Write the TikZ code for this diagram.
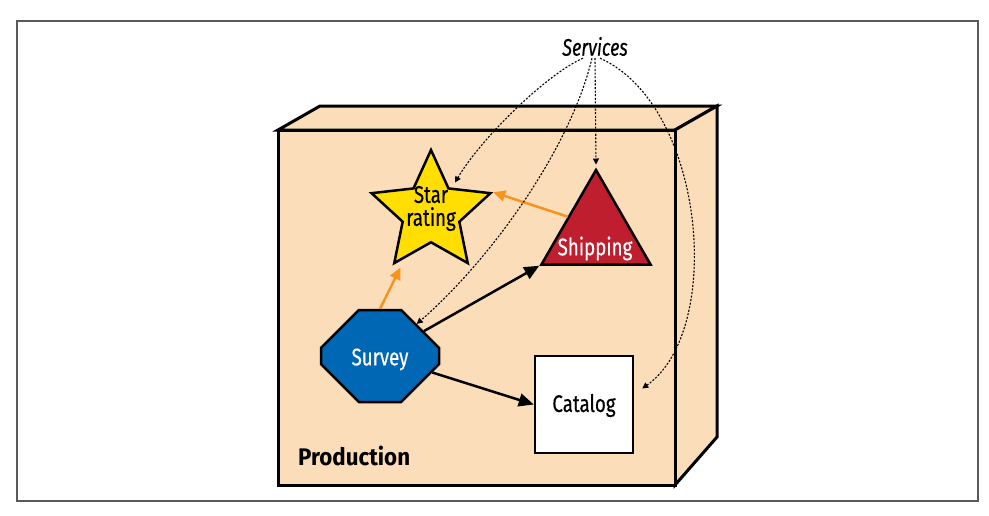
\documentclass[tikz,border=0pt]{standalone}
\usepackage{fontspec}
\setmainfont{Fira Sans}[FakeStretch=0.78, FakeBold=0.4]
\newfontfamily\italfam{Fira Sans Italic}[FakeStretch=0.75, FakeBold=0.3]
\newfontfamily\boldfam{Fira Sans Bold}[FakeStretch=0.93]
\usetikzlibrary{arrows.meta,shapes.geometric,shapes.misc,calc}
\definecolor{peach}{RGB}{252,221,186}
\definecolor{staryellow}{RGB}{255,222,0}
\definecolor{shipred}{RGB}{190,30,45}
\definecolor{surveyblue}{RGB}{0,103,180}
\definecolor{arroworange}{RGB}{247,148,30}
\definecolor{framegray}{RGB}{90,90,90}
\tikzset{
  lbl/.style={font=\fontsize{24}{21}\selectfont, inner sep=1pt},
  shapebox/.style={draw=black, line width=2.5pt, inner sep=0pt},
  boxline/.style={draw=black, line width=3pt, fill=peach, line join=miter},
  blackarrow/.style={draw=black, line width=2.5pt, -{Triangle[length=15pt,width=13pt]}},
  orangearrow/.style={draw=arroworange, line width=2.5pt, -{Triangle[length=12pt,width=11pt]}},
  svc/.style={draw=black, line width=1.1pt, dash pattern=on 2pt off 1.6pt, -{Triangle[length=6pt,width=6pt]}},
}
\begin{document}
\begin{tikzpicture}[x=1pt,y=-1pt]
\useasboundingbox (0,0) rectangle (989,515);
% outer frame
\draw[framegray, line width=1.3pt] (17,21) rectangle (978,501);
% production box
\draw[boxline] (278,130) -- (320,106) -- (717,106) -- (675,130) -- cycle;
\draw[boxline] (675,130) -- (717,106) -- (717,437) -- (675,485) -- cycle;
\draw[boxline] (278,130) rectangle (675,485);
\node[lbl, font=\fontsize{24}{21}\boldfam, anchor=base west] (production) at (297,465) {Production};
% services
\node[shapebox, star, star points=5, star point ratio=2.1, minimum size=125pt, fill=staryellow] (star) at (431,212.5) {};
\node[lbl, align=center, font=\fontsize{24}{23}\selectfont, inner sep=0pt] (starlabel) at (431,208.5) {Star\\rating};
\node[shapebox, regular polygon, regular polygon sides=3, minimum size=126pt, fill=shipred] (shipping) at (596,233) {};
\node[lbl, text=white] (shiplabel) at (595,248.5) {Shipping};
\node[shapebox, chamfered rectangle, chamfered rectangle xsep=27pt, chamfered rectangle ysep=27pt, minimum width=118pt, minimum height=92pt, fill=surveyblue, font=\fontsize{24}{21}\selectfont] (survey) at (380,356) {\phantom{Survey}};
\node[lbl, text=white] (surveylabel) at (380,359.5) {Survey};
\node[shapebox, rectangle, minimum width=98pt, minimum height=97pt, fill=white] (catalog) at (584,404.5) {};
\node[lbl] (cataloglabel) at (584,405.5) {Catalog};
\node[lbl, font=\fontsize{24}{21}\italfam, inner sep=2pt] (services) at (595,46.5) {Services};
% connectors
\draw[orangearrow] (shipping.side 1) -- (star.outer point 5);
\draw[orangearrow] (survey.north) -- ([xshift=8pt,yshift=-2pt]star.outer point 3);
\draw[blackarrow] (survey) -- (shipping.corner 2);
\draw[blackarrow] (survey) -- (catalog.west);
\coordinate (starin) at ($(star.center)+(24,-30)$);
\coordinate (catin) at ($(catalog.east)+(8,-16)$);
\draw[svc] ([xshift=-12pt]services.south) .. controls (545,75) and (480,140) .. (starin);
\draw[svc] ([xshift=-3pt]services.south) .. controls (570,150) and (490,260) .. (survey);
\draw[svc] (services.south) -- ([yshift=3pt]shipping.corner 1);
\draw[svc] ([xshift=5pt]services.south) .. controls (705,105) and (725,330) .. (catin);
\end{tikzpicture}
\end{document}
